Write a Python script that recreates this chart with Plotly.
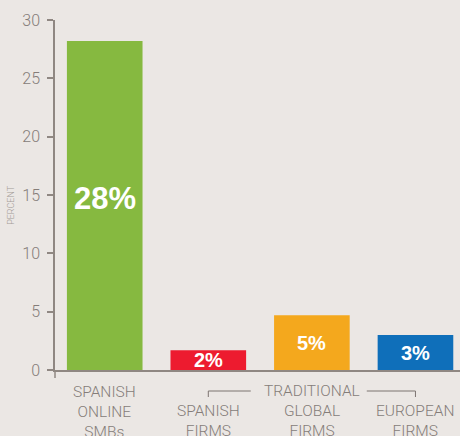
import plotly.graph_objects as go

categories = ["SPANISH<br>ONLINE<br>SMBs", "SPANISH<br>FIRMS", "GLOBAL<br>FIRMS", "EUROPEAN<br>FIRMS"]
values = [28.2, 1.7, 4.7, 3.0]
value_labels = ["28%", "2%", "5%", "3%"]
colors = ["#86b940", "#ed1b2f", "#f4a81d", "#0f6fba"]
group_label = "TRADITIONAL"
y_ticks = [0, 5, 10, 15, 20, 25, 30]

# styling
label_sizes = [31, 20, 20, 20]
label_shift = [0.6, 0.0, 0.0, 0.0]
BG = "#ebe7e4"
AX = "#8f8782"
TXT = "#857d79"
FONT = "Liberation Sans"
LIGHT = "Roboto"
PLOT_TOP, PLOT_BOT = 20, 370


def py(px):
    """pixel row -> paper y"""
    return (PLOT_BOT - px) / (PLOT_BOT - PLOT_TOP)


xs = list(range(len(categories)))

fig = go.Figure()
fig.add_trace(go.Bar(
    x=xs, y=values, marker=dict(color=colors, line=dict(width=0)),
    width=0.73, hoverinfo="skip", showlegend=False,
))

# value labels centred in bars
for x, v, t, s, d in zip(xs, values, value_labels, label_sizes, label_shift):
    fig.add_annotation(x=x, y=v / 2 + d, text=f"<b>{t}</b>", showarrow=False,
                       font=dict(family=FONT, size=s, color="white"),
                       xref="x", yref="y", yanchor="middle")

# category labels
for i, c in enumerate(categories):
    top = py(381) if i == 0 else py(400)
    fig.add_annotation(x=i, y=top, text=c, showarrow=False, xref="x", yref="paper",
                       yanchor="top", font=dict(family=LIGHT, size=15.5, color=TXT, weight=300),
                       align="center")

# group label and bracket
fig.add_annotation(x=2, y=py(391), text=group_label, showarrow=False, xref="x", yref="paper",
                   yanchor="middle", font=dict(family=LIGHT, size=15.5, color=TXT, weight=300))
br = dict(color="#7d7571", width=1)
for x0, x1, xv in [(1, 1.41, 1), (2.53, 3, 3)]:
    fig.add_shape(type="line", xref="x", yref="paper", x0=x0, x1=x1,
                  y0=py(391), y1=py(391), line=br)
    fig.add_shape(type="line", xref="x", yref="paper", x0=xv, x1=xv,
                  y0=py(391), y1=py(397), line=br)
# y-axis line extension below zero
fig.add_shape(type="line", xref="paper", yref="paper", x0=0, x1=0, y0=0, y1=py(378),
              line=dict(color=AX, width=1.5))

# axis title
fig.add_annotation(x=-0.109, y=py(205), xref="paper", yref="paper", text="PERCENT",
                   textangle=-90, showarrow=False, xanchor="center", yanchor="middle",
                   font=dict(family=LIGHT, size=9, color="#a39b97", weight=300))

fig.update_layout(
    width=460, height=436, paper_bgcolor=BG, plot_bgcolor=BG,
    margin=dict(l=55, r=0, t=PLOT_TOP, b=436 - PLOT_BOT),
    xaxis=dict(range=[-0.48, 3.43], showticklabels=False, ticks="", showgrid=False,
               zeroline=False, showline=True, linecolor=AX, linewidth=1.5, fixedrange=True),
    yaxis=dict(range=[0, 30], tickvals=y_ticks, ticks="outside", ticklen=6, tickwidth=1.5,
               tickcolor=AX, showgrid=False, zeroline=False, showline=True, linecolor=AX,
               linewidth=1.5, tickfont=dict(family=LIGHT, size=16, color=TXT, weight=300),
               ticklabelstandoff=4, fixedrange=True),
)

fig.write_html("out.html")
